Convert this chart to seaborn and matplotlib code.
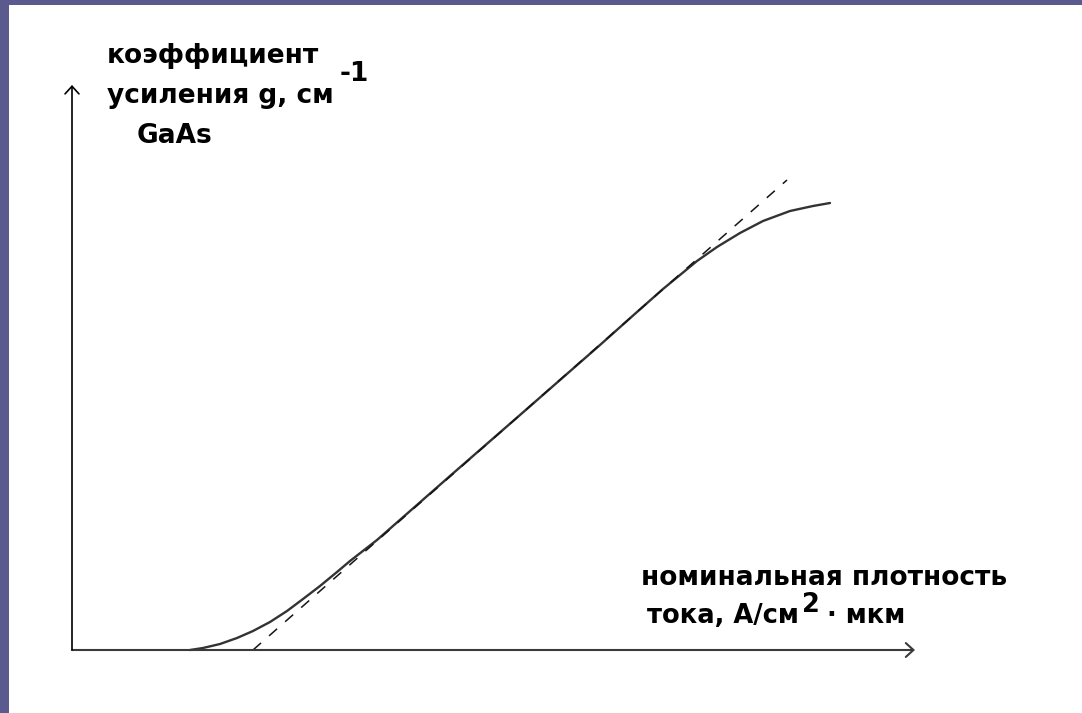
import matplotlib
matplotlib.use("Agg")
import matplotlib.pyplot as plt
import pandas as pd
import seaborn as sns

# ---- data (arbitrary units) ----
current_density = [1.18, 1.31, 1.48, 1.65, 1.81, 1.98, 2.15, 2.31, 2.48, 2.65, 2.78,
                   3.05, 3.78, 4.48, 5.28, 5.65, 5.91, 6.08, 6.25, 6.45, 6.68,
                   6.91, 7.18, 7.41, 7.58]
gain = [0.00, 0.02, 0.06, 0.12, 0.19, 0.28, 0.39, 0.51, 0.64, 0.78, 0.89,
        1.10, 1.74, 2.35, 3.05, 3.38, 3.61, 3.75, 3.89, 4.03, 4.17,
        4.29, 4.39, 4.44, 4.47]
tangent_density = [1.81, 7.15]
tangent_gain = [0.00, 4.70]
x_axis_end = 8.43
y_axis_end = 5.65

ylabel_lines = ["коэффициент", "усиления g, см", "GaAs"]
ylabel_sup = "-1"
xlabel_line1 = "номинальная плотность"
xlabel_line2 = ["тока, А/см", "2", "· мкм"]

# ---- figure ----
sns.set_style("white")
plt.rcParams['font.family'] = ['DejaVu Sans']

W, H = 1082, 713
fig = plt.figure(figsize=(W / 100, H / 100), dpi=100, facecolor='#5a5a8e')
ax = fig.add_axes([9 / W, 0, (W - 9) / W, (H - 5) / H])
ax.set_facecolor('white')
ax.set_xlim((9 - 72) / 100, (W - 72) / 100)
ax.set_ylim((650 - H) / 100, (650 - 5) / 100)
for s in ax.spines.values():
    s.set_visible(False)
ax.set_xticks([])
ax.set_yticks([])

curve = pd.DataFrame({'J': current_density, 'g': gain})
tangent = pd.DataFrame({'J': tangent_density, 'g': tangent_gain})

sns.lineplot(data=curve, x='J', y='g', ax=ax, color='#333333', lw=1.7,
             sort=False, estimator=None)
sns.lineplot(data=tangent, x='J', y='g', ax=ax, color='#151515', lw=1.1,
             linestyle=(0, (7, 7)), sort=False, estimator=None)
ax.set_xlabel('')
ax.set_ylabel('')

# axes arrows
ax.annotate('', xy=(x_axis_end, 0), xytext=(0, 0),
            arrowprops=dict(arrowstyle='->,head_length=0.55,head_width=0.5',
                            lw=1.5, color='#3a3a3a', shrinkA=0, shrinkB=0))
ax.annotate('', xy=(0, y_axis_end), xytext=(0, 0),
            arrowprops=dict(arrowstyle='->,head_length=0.55,head_width=0.5',
                            lw=1.2, color='black', shrinkA=0, shrinkB=0))

fig.canvas.draw()
renderer = fig.canvas.get_renderer()
FS = 19


def put(s, x, y, size=FS):
    t = fig.text(x / W, 1 - y / H, s, fontsize=size, fontweight='bold',
                 va='baseline', ha='left', color='black')
    return t.get_window_extent(renderer).x1


put(ylabel_lines[0], 107, 63)
r = put(ylabel_lines[1], 107, 103)
put(ylabel_sup, r + 6, 81)
put(ylabel_lines[2], 137, 143)

put(xlabel_line1, 641, 585)
r = put(xlabel_line2[0], 647, 623, size=18.5)
r = put(xlabel_line2[1], r + 3, 612, size=18.5)
put(xlabel_line2[2], r + 7, 623, size=18.5)

fig.savefig('out.png', dpi=100, facecolor=fig.get_facecolor())
